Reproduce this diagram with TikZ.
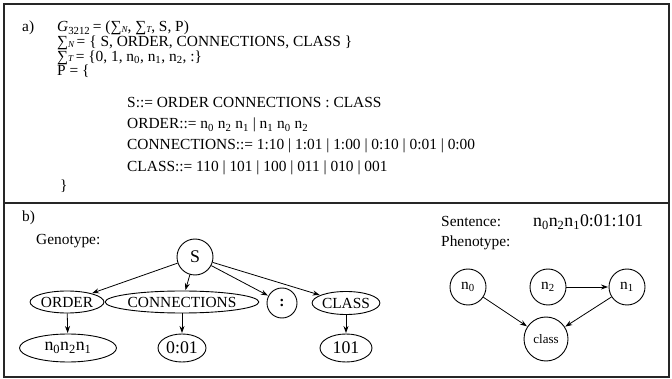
\documentclass[tikz,border=0pt]{standalone}
\usepackage{fontspec}
\setmainfont{Liberation Serif}
\usetikzlibrary{shapes.geometric,arrows.meta}
\newcommand{\sgm}[1]{\char"2211\raisebox{-0.5pt}{\fontsize{9}{10}\selectfont\itshape #1}}
\newcommand{\nn}[1]{n\textsubscript{#1}}
\tikzset{
  txt/.style={anchor=base west,inner sep=0pt,font=\fontsize{15.4}{18}\selectfont},
  big/.style={font=\fontsize{17.8}{20}\selectfont},
  oval/.style={draw,ellipse,inner sep=0pt,line width=0.9pt,font=\fontsize{15.4}{18}\selectfont},
  ring/.style={draw,circle,inner sep=0pt,line width=0.9pt,font=\fontsize{15.4}{18}\selectfont},
  arr/.style={-{Stealth[length=7pt,width=5pt]},line width=0.8pt,shorten >=0.5pt},
  frame/.style={line width=1.2pt,draw=black!85}
}
\begin{document}
\begin{tikzpicture}[x=1pt,y=-1pt]
\useasboundingbox (0,0) rectangle (672,379);
% outer frame and divider
\draw[frame] (4,4) rectangle (669,377);
\draw[frame] (4,203) -- (669,203);

% part a: the grammar
\node[txt] (la) at (22,32) {a)};
\node[txt] (g1) at (57,32) {{\itshape G}\textsubscript{3212}\,= (\sgm{N}, \sgm{T}, S, P)};
\node[txt] (g2) at (57,47) {\sgm{N}\,= \{ S, ORDER, CONNECTIONS, CLASS \}};
\node[txt] (g3) at (57,61.5) {\sgm{T}\,= \{0, 1, \nn{0}, \nn{1}, \nn{2}, :\}};
\node[txt] (g4) at (57,76) {P = \{};
\node[txt] (p1) at (127,108) {S::= ORDER CONNECTIONS : CLASS};
\node[txt] (p2) at (127,129) {ORDER::= \nn{0} \nn{2} \nn{1} | \nn{1} \nn{0} \nn{2}};
\node[txt] (p3) at (127,150) {CONNECTIONS::= 1:10 | 1:01 | 1:00 | 0:10 | 0:01 | 0:00};
\node[txt] (p4) at (127,172) {CLASS::= 110 | 101 | 100 | 011 | 010 | 001};
\node[txt] (g5) at (60,191) {\}};

% part b: genotype tree
\node[txt] (lb) at (22,222) {b)};
\node[txt] (gt) at (36,245) {Genotype:};
\node[ring,minimum size=36pt,big] (S) at (195,257) {S};
\node[oval,minimum width=70pt,minimum height=22pt] (ord) at (67,302) {ORDER};
\node[oval,minimum width=142pt,minimum height=22pt] (con) at (182,302) {CONNECTIONS};
\node[ring,minimum size=30pt] (col) at (282,303) {\textbf{:}};
\node[oval,minimum width=64pt,minimum height=23pt] (cls) at (346,303) {CLASS};
\node[oval,minimum width=97pt,minimum height=28pt,big] (ordv) at (68,348) {\nn{0}\nn{2}\nn{1}};
\node[oval,minimum width=48pt,minimum height=28pt,big] (conv) at (182,348) {0:01};
\node[oval,minimum width=52pt,minimum height=28pt,big] (clsv) at (346,348) {101};
\draw[arr] (S) -- (ord);
\draw[arr] (S) -- (con);
\draw[arr] (S) -- (col);
\draw[arr] (S) -- (cls);
\draw[arr] (ord) -- (ordv);
\draw[arr] (con) -- (conv);
\draw[arr] (cls) -- (clsv);

% part b: sentence and phenotype network
\node[txt] (sl) at (441,227) {Sentence:};
\node[txt,big] (sv) at (533,227) {\nn{0}\nn{2}\nn{1}0:01:101};
\node[txt] (pl) at (441,247) {Phenotype:};
\node[ring,minimum size=36pt] (n0) at (468,287) {\nn{0}};
\node[ring,minimum size=36pt] (n2) at (548,287) {\nn{2}};
\node[ring,minimum size=36pt] (n1) at (627,287) {\nn{1}};
\node[ring,minimum size=44pt,font=\fontsize{13}{15}\selectfont] (cl) at (546,339) {class};
\draw[arr] (n2) -- (n1);
\draw[arr] (n0) -- (cl);
\draw[arr] (n1) -- (cl);
\end{tikzpicture}
\end{document}
